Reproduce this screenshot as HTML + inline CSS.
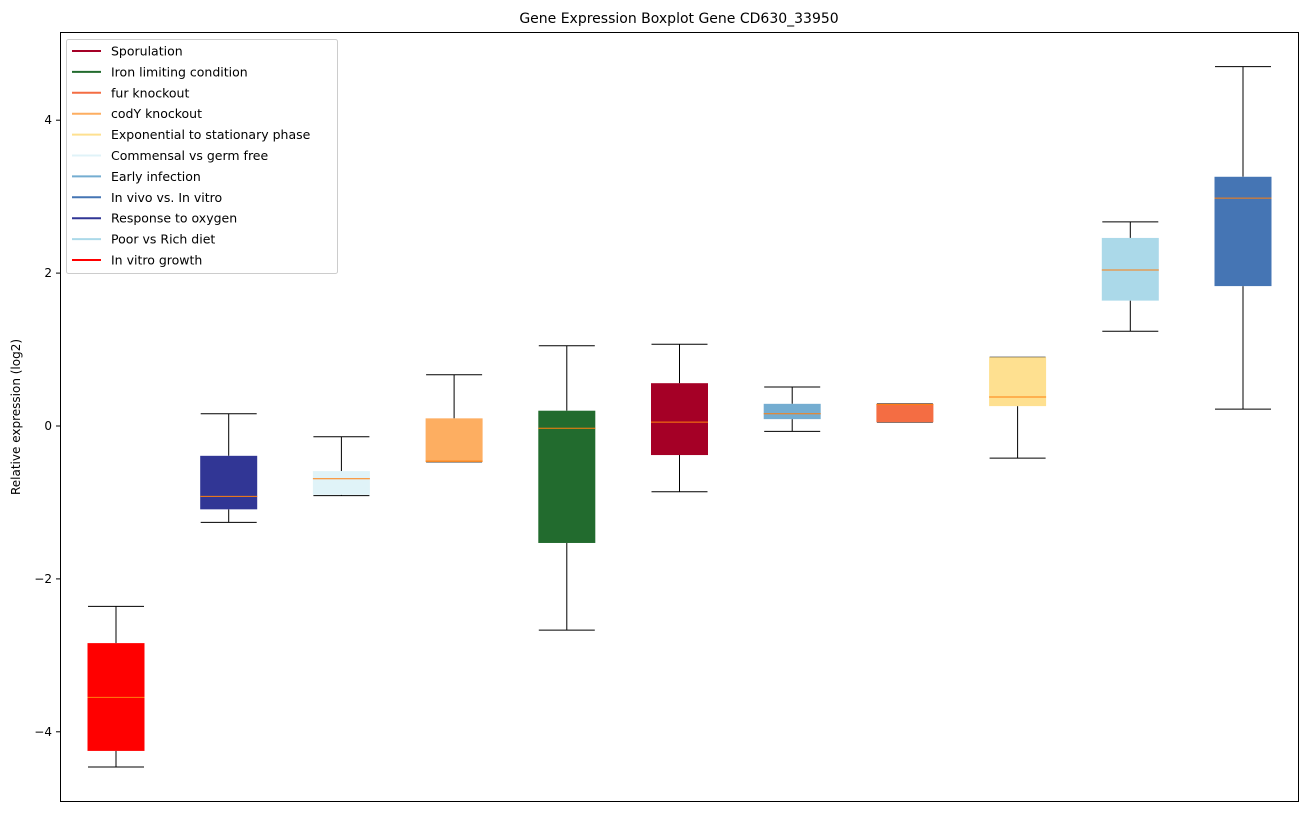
<!DOCTYPE html>
<html><head><meta charset="utf-8"><style>
body{margin:0;background:#fff;font-family:"Liberation Sans","DejaVu Sans",sans-serif}
</style></head><body>
<svg id="chart" width="1309" height="812" xmlns="http://www.w3.org/2000/svg" font-family="DejaVu Sans, Liberation Sans, sans-serif">
<text x="679" y="23" text-anchor="middle" font-size="14">Gene Expression Boxplot Gene CD630_33950</text>
<text transform="translate(20,417) rotate(-90)" text-anchor="middle" font-size="12">Relative expression (log2)</text>
<g id="boxes"></g>
<g id="yticks"></g>
<rect x="60.5" y="32.5" width="1238" height="769" fill="none" stroke="#000" stroke-width="1"/>
<g id="legend"></g>
</svg>
<script>
const categories=["In vitro growth","Response to oxygen","Commensal vs germ free","codY knockout","Iron limiting condition","Sporulation","Early infection","fur knockout","Exponential to stationary phase","Poor vs Rich diet","In vivo vs. In vitro"];
const whiskerLow=[-4.46,-1.26,-0.91,-0.47,-2.67,-0.86,-0.07,0.05,-0.42,1.24,0.22];
const q1=[-4.25,-1.09,-0.90,-0.47,-1.53,-0.38,0.09,0.05,0.26,1.64,1.83];
const medians=[-3.55,-0.92,-0.69,-0.46,-0.03,0.05,0.16,0.28,0.38,2.04,2.98];
const q3=[-2.84,-0.39,-0.59,0.10,0.20,0.56,0.29,0.29,0.90,2.46,3.26];
const whiskerHigh=[-2.36,0.16,-0.14,0.67,1.05,1.07,0.51,0.29,0.90,2.67,4.70];
const colors=["#ff0000","#313695","#e0f3f8","#fdae61","#226b2e","#a50026","#74add1","#f46d43","#fee090","#abd9e9","#4575b4"];
const yTicks=[-4,-2,0,2,4];
const legendLabels=["Sporulation","Iron limiting condition","fur knockout","codY knockout","Exponential to stationary phase","Commensal vs germ free","Early infection","In vivo vs. In vitro","Response to oxygen","Poor vs Rich diet","In vitro growth"];
const legendColors=["#a50026","#226b2e","#f46d43","#fdae61","#fee090","#e0f3f8","#74add1","#4575b4","#313695","#abd9e9","#ff0000"];
const NS="http://www.w3.org/2000/svg";
const y=v=>426-v*76.45;
const x=i=>116+i*112.7;
function mk(t,a,p){const e=document.createElementNS(NS,t);for(const k in a)e.setAttribute(k,a[k]);p.appendChild(e);return e;}
const gb=document.getElementById('boxes');
categories.forEach((c,i)=>{
 const g=mk('g',{},gb);
 
 
 const cx=x(i),w=57;
 mk('line',{x1:cx,x2:cx,y1:y(whiskerHigh[i]),y2:y(q3[i]),stroke:'#000'},g);
 mk('line',{x1:cx,x2:cx,y1:y(q1[i]),y2:y(whiskerLow[i]),stroke:'#000'},g);
 mk('line',{x1:cx-28,x2:cx+28,y1:y(whiskerHigh[i]),y2:y(whiskerHigh[i]),stroke:'#000'},g);
 mk('line',{x1:cx-28,x2:cx+28,y1:y(whiskerLow[i]),y2:y(whiskerLow[i]),stroke:'#000'},g);
 mk('rect',{x:cx-w/2,y:y(q3[i]),width:w,height:Math.max(1,y(q1[i])-y(q3[i])),fill:colors[i]},g);
 mk('line',{x1:cx-w/2,x2:cx+w/2,y1:y(medians[i]),y2:y(medians[i]),stroke:'#ff7f0e'},g);
});
const gt=document.getElementById('yticks');
yTicks.forEach(t=>{
 const l=mk('line',{x1:56,x2:60,y1:y(t),y2:y(t),stroke:'#000'},gt);
 
 
 const tx=mk('text',{x:52,y:y(t)+4,'text-anchor':'end','font-size':12},gt);
 
 
 tx.textContent=t<0?'\u2212'+Math.abs(t):String(t);
});
const gl=document.getElementById('legend');


mk('rect',{x:66.5,y:39.5,width:271,height:234,rx:2,fill:'#fff','fill-opacity':0.8,stroke:'#ccc'},gl);
legendLabels.forEach((lab,i)=>{
 const g=mk('g',{},gl);
 
 
 const yy=51+i*20.9;
 mk('line',{x1:72,x2:101,y1:yy,y2:yy,stroke:legendColors[i],'stroke-width':2},g);
 const t=mk('text',{x:111,y:yy+4.5,'font-size':12.5},g);
 t.textContent=lab;
});
</script>
</body></html>
